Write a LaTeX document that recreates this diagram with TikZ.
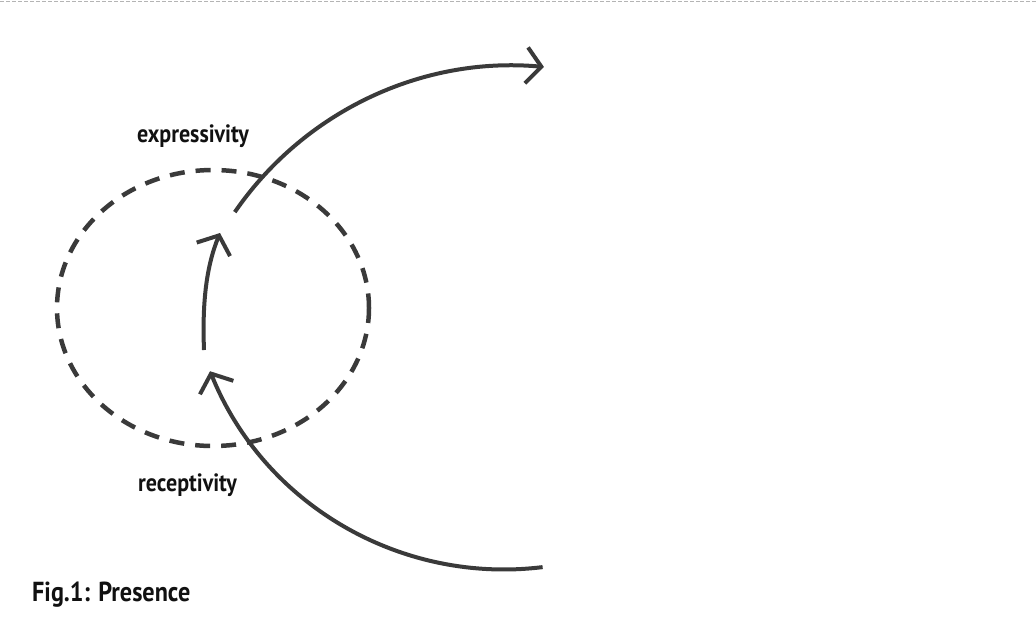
\documentclass[tikz,border=0pt]{standalone}
\usepackage{fontspec}
\setsansfont{PT Sans}
\newfontfamily\narrowfont[FakeStretch=0.88]{PT Sans}
\usetikzlibrary{arrows.meta}
\definecolor{Ink}{HTML}{111111}
\definecolor{Scan}{HTML}{3A3A3A}
\definecolor{Rule}{HTML}{B4B4B4}

\begin{document}
\begin{tikzpicture}[x=1pt,y=-1pt,every node/.style={text=Ink,inner sep=0pt},wordlabel/.style={anchor=base west,font=\narrowfont\bfseries\fontsize{25}{28}\selectfont},figcaption/.style={anchor=base west,font=\narrowfont\bfseries\fontsize{27.5}{30}\selectfont},flow/.style={draw=Scan,line width=4pt,-{Straight Barb[length=15pt,width=36pt]}},halo/.style={draw=Scan,line width=4.5pt,dash pattern=on 15pt off 11pt}]
\useasboundingbox (0,0) rectangle (1036,625);
\draw[Rule,line width=0.8pt,dash pattern=on 4pt off 2pt] (0,1.5) -- (1036,1.5);
\coordinate (centre) at (213,308);
\draw[halo] (centre) ellipse [x radius=156, y radius=138];
\coordinate (outstart) at (234.8,212.1);
\coordinate (instart) at (542.6,567.1);
\coordinate (midstart) at (204,350);
\coordinate (midtip) at (220,233);
\draw[flow] (outstart) arc[start angle=214.5, end angle=275.2, radius=338];
\draw[flow] (instart) arc[start angle=83, end angle=158, radius=317];
\draw[flow] (midstart) .. controls (202,300) and (207,265) .. (midtip);
\node[wordlabel] (expressivity) at (137,142) {expressivity};
\node[wordlabel] (receptivity) at (138,491) {receptivity};
\node[figcaption] (caption) at (32,601) {Fig.1: Presence};
\end{tikzpicture}
\end{document}
